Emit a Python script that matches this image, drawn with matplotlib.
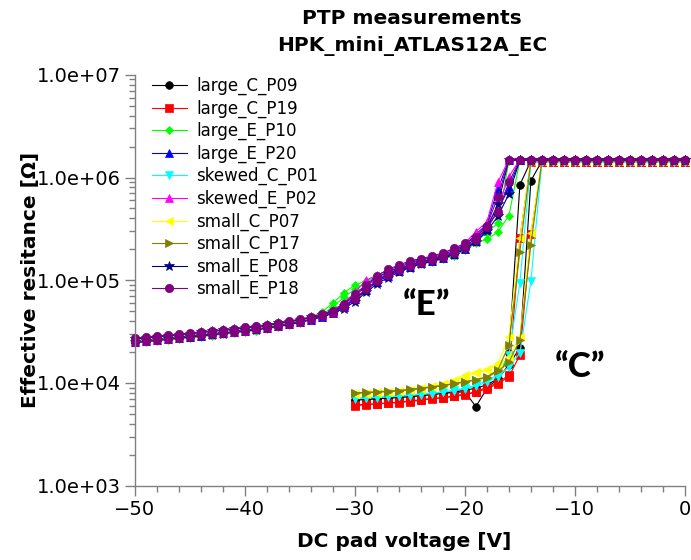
import matplotlib
matplotlib.use("Agg")
import matplotlib.pyplot as plt
from matplotlib.ticker import FuncFormatter, MultipleLocator, LogLocator, NullFormatter

# ---------------- data ----------------
voltage_E = [-50, -49, -48, -47, -46, -45, -44, -43, -42, -41,
             -40, -39, -38, -37, -36, -35, -34, -33, -32, -31,
             -30, -29, -28, -27, -26, -25, -24, -23, -22, -21,
             -20, -19, -18, -17, -16, -15, -14, -13, -12, -11,
             -10, -9, -8, -7, -6, -5, -4, -3, -2, -1, 0]
voltage_C = [-30, -29, -28, -27, -26, -25, -24, -23, -22, -21,
             -20, -19, -18, -17, -16, -15, -14, -13, -12, -11,
             -10, -9, -8, -7, -6, -5, -4, -3, -2, -1, 0]

# C samples (two sweeps each)
large_C_P09_a = [6.90e3, 7.00e3, 7.10e3, 7.20e3, 7.30e3, 7.45e3, 7.60e3, 7.80e3, 8.00e3, 8.20e3,
                 8.50e3, 8.90e3, 9.60e3, 1.10e4, 1.95e4, 8.50e5, 1.45e6, 1.45e6, 1.45e6, 1.45e6,
                 1.45e6, 1.45e6, 1.45e6, 1.45e6, 1.45e6, 1.45e6, 1.45e6, 1.45e6, 1.45e6, 1.45e6, 1.45e6]
large_C_P09_b = [6.80e3, 6.90e3, 7.00e3, 7.10e3, 7.20e3, 7.35e3, 7.50e3, 7.70e3, 7.90e3, 8.10e3,
                 8.20e3, 5.90e3, 8.80e3, 1.10e4, 1.50e4, 2.20e4, 9.30e5, 1.45e6, 1.45e6, 1.45e6,
                 1.45e6, 1.45e6, 1.45e6, 1.45e6, 1.45e6, 1.45e6, 1.45e6, 1.45e6, 1.45e6, 1.45e6, 1.45e6]
large_C_P19_a = [6.10e3, 6.20e3, 6.30e3, 6.40e3, 6.50e3, 6.70e3, 6.85e3, 7.10e3, 7.20e3, 7.50e3,
                 7.80e3, 8.20e3, 9.10e3, 1.00e4, 1.20e4, 2.56e5, 1.42e6, 1.42e6, 1.42e6, 1.42e6,
                 1.42e6, 1.42e6, 1.42e6, 1.42e6, 1.42e6, 1.42e6, 1.42e6, 1.42e6, 1.42e6, 1.42e6, 1.42e6]
large_C_P19_b = [6.00e3, 6.15e3, 6.25e3, 6.35e3, 6.45e3, 6.60e3, 6.80e3, 7.00e3, 7.15e3, 7.40e3,
                 7.70e3, 8.10e3, 8.80e3, 9.80e3, 1.15e4, 1.87e4, 2.80e5, 1.42e6, 1.42e6, 1.42e6,
                 1.42e6, 1.42e6, 1.42e6, 1.42e6, 1.42e6, 1.42e6, 1.42e6, 1.42e6, 1.42e6, 1.42e6, 1.42e6]
skewed_C_P01_a = [7.10e3, 7.20e3, 7.30e3, 7.40e3, 7.50e3, 7.65e3, 7.80e3, 8.00e3, 8.20e3, 8.50e3,
                  8.90e3, 9.50e3, 1.05e4, 1.20e4, 1.87e4, 9.50e4, 1.40e6, 1.40e6, 1.40e6, 1.40e6,
                  1.40e6, 1.40e6, 1.40e6, 1.40e6, 1.40e6, 1.40e6, 1.40e6, 1.40e6, 1.40e6, 1.40e6, 1.40e6]
skewed_C_P01_b = [7.00e3, 7.10e3, 7.20e3, 7.30e3, 7.40e3, 7.55e3, 7.70e3, 7.90e3, 8.10e3, 8.40e3,
                  8.80e3, 9.30e3, 1.02e4, 1.15e4, 1.44e4, 1.95e4, 9.80e4, 1.40e6, 1.40e6, 1.40e6,
                  1.40e6, 1.40e6, 1.40e6, 1.40e6, 1.40e6, 1.40e6, 1.40e6, 1.40e6, 1.40e6, 1.40e6, 1.40e6]
small_C_P07_a = [7.90e3, 8.00e3, 8.10e3, 8.25e3, 8.40e3, 8.60e3, 8.90e3, 9.30e3, 9.80e3, 1.08e4,
                 1.20e4, 1.29e4, 1.36e4, 1.55e4, 2.80e4, 2.60e5, 1.45e6, 1.45e6, 1.45e6, 1.45e6,
                 1.45e6, 1.45e6, 1.45e6, 1.45e6, 1.45e6, 1.45e6, 1.45e6, 1.45e6, 1.45e6, 1.45e6, 1.45e6]
small_C_P07_b = [7.80e3, 7.90e3, 8.00e3, 8.15e3, 8.30e3, 8.50e3, 8.80e3, 9.20e3, 9.70e3, 1.05e4,
                 1.15e4, 1.25e4, 1.33e4, 1.50e4, 1.80e4, 2.80e4, 2.90e5, 1.45e6, 1.45e6, 1.45e6,
                 1.45e6, 1.45e6, 1.45e6, 1.45e6, 1.45e6, 1.45e6, 1.45e6, 1.45e6, 1.45e6, 1.45e6, 1.45e6]
small_C_P17_a = [8.05e3, 8.10e3, 8.25e3, 8.35e3, 8.45e3, 8.70e3, 8.90e3, 9.20e3, 9.50e3, 9.90e3,
                 1.03e4, 1.08e4, 1.15e4, 1.34e4, 2.34e4, 1.90e5, 1.45e6, 1.45e6, 1.45e6, 1.45e6,
                 1.45e6, 1.45e6, 1.45e6, 1.45e6, 1.45e6, 1.45e6, 1.45e6, 1.45e6, 1.45e6, 1.45e6, 1.45e6]
small_C_P17_b = [7.95e3, 8.00e3, 8.15e3, 8.25e3, 8.35e3, 8.60e3, 8.80e3, 9.10e3, 9.40e3, 9.80e3,
                 1.02e4, 1.07e4, 1.13e4, 1.30e4, 1.60e4, 2.62e4, 2.20e5, 1.45e6, 1.45e6, 1.45e6,
                 1.45e6, 1.45e6, 1.45e6, 1.45e6, 1.45e6, 1.45e6, 1.45e6, 1.45e6, 1.45e6, 1.45e6, 1.45e6]

# E samples (two sweeps each)
large_E_P10_a = [2.60e4, 2.65e4, 2.71e4, 2.77e4, 2.84e4, 2.91e4, 2.98e4, 3.06e4, 3.14e4, 3.22e4,
                 3.31e4, 3.41e4, 3.53e4, 3.67e4, 3.84e4, 4.05e4, 4.40e4, 4.90e4, 6.00e4, 7.50e4,
                 9.00e4, 9.80e4, 1.08e5, 1.20e5, 1.30e5, 1.40e5, 1.48e5, 1.56e5, 1.65e5, 1.80e5,
                 2.05e5, 2.40e5, 2.90e5, 3.60e5, 1.45e6, 1.47e6, 1.47e6, 1.47e6, 1.47e6, 1.47e6,
                 1.47e6, 1.47e6, 1.47e6, 1.47e6, 1.47e6, 1.47e6, 1.47e6, 1.47e6, 1.47e6, 1.47e6, 1.47e6]
large_E_P10_b = [2.45e4, 2.50e4, 2.55e4, 2.61e4, 2.67e4, 2.74e4, 2.81e4, 2.89e4, 2.97e4, 3.05e4,
                 3.14e4, 3.24e4, 3.36e4, 3.50e4, 3.66e4, 3.86e4, 4.15e4, 4.60e4, 5.50e4, 6.80e4,
                 8.20e4, 9.30e4, 1.03e5, 1.14e5, 1.25e5, 1.35e5, 1.43e5, 1.51e5, 1.60e5, 1.72e5,
                 1.95e5, 2.30e5, 2.50e5, 2.95e5, 4.25e5, 1.47e6, 1.47e6, 1.47e6, 1.47e6, 1.47e6,
                 1.47e6, 1.47e6, 1.47e6, 1.47e6, 1.47e6, 1.47e6, 1.47e6, 1.47e6, 1.47e6, 1.47e6, 1.47e6]
large_E_P20_a = [2.69e4, 2.75e4, 2.81e4, 2.88e4, 2.95e4, 3.02e4, 3.10e4, 3.18e4, 3.26e4, 3.34e4,
                 3.43e4, 3.53e4, 3.65e4, 3.79e4, 3.95e4, 4.13e4, 4.33e4, 4.60e4, 5.00e4, 5.80e4,
                 7.10e4, 8.80e4, 1.06e5, 1.20e5, 1.33e5, 1.47e5, 1.57e5, 1.66e5, 1.77e5, 1.96e5,
                 2.22e5, 2.80e5, 3.50e5, 7.70e5, 1.48e6, 1.48e6, 1.48e6, 1.48e6, 1.48e6, 1.48e6,
                 1.48e6, 1.48e6, 1.48e6, 1.48e6, 1.48e6, 1.48e6, 1.48e6, 1.48e6, 1.48e6, 1.48e6, 1.48e6]
large_E_P20_b = [2.49e4, 2.55e4, 2.61e4, 2.68e4, 2.75e4, 2.82e4, 2.89e4, 2.97e4, 3.05e4, 3.13e4,
                 3.22e4, 3.32e4, 3.44e4, 3.58e4, 3.74e4, 3.92e4, 4.14e4, 4.42e4, 4.80e4, 5.45e4,
                 6.50e4, 8.00e4, 9.60e4, 1.10e5, 1.23e5, 1.36e5, 1.46e5, 1.55e5, 1.65e5, 1.80e5,
                 2.02e5, 2.40e5, 3.15e5, 4.80e5, 8.00e5, 1.48e6, 1.48e6, 1.48e6, 1.48e6, 1.48e6,
                 1.48e6, 1.48e6, 1.48e6, 1.48e6, 1.48e6, 1.48e6, 1.48e6, 1.48e6, 1.48e6, 1.48e6, 1.48e6]
skewed_E_P02_a = [2.68e4, 2.74e4, 2.80e4, 2.87e4, 2.94e4, 3.01e4, 3.09e4, 3.17e4, 3.25e4, 3.33e4,
                  3.42e4, 3.52e4, 3.64e4, 3.78e4, 3.94e4, 4.12e4, 4.35e4, 4.65e4, 5.10e4, 6.00e4,
                  7.60e4, 1.00e5, 1.12e5, 1.24e5, 1.36e5, 1.50e5, 1.60e5, 1.70e5, 1.82e5, 2.02e5,
                  2.30e5, 2.97e5, 3.70e5, 9.00e5, 1.50e6, 1.50e6, 1.50e6, 1.50e6, 1.50e6, 1.50e6,
                  1.50e6, 1.50e6, 1.50e6, 1.50e6, 1.50e6, 1.50e6, 1.50e6, 1.50e6, 1.50e6, 1.50e6, 1.50e6]
skewed_E_P02_b = [2.52e4, 2.58e4, 2.64e4, 2.70e4, 2.77e4, 2.84e4, 2.91e4, 2.99e4, 3.07e4, 3.15e4,
                  3.24e4, 3.34e4, 3.46e4, 3.60e4, 3.76e4, 3.94e4, 4.16e4, 4.44e4, 4.85e4, 5.60e4,
                  6.90e4, 8.80e4, 1.03e5, 1.16e5, 1.29e5, 1.42e5, 1.52e5, 1.62e5, 1.74e5, 1.92e5,
                  2.18e5, 2.70e5, 3.40e5, 5.20e5, 1.02e6, 1.50e6, 1.50e6, 1.50e6, 1.50e6, 1.50e6,
                  1.50e6, 1.50e6, 1.50e6, 1.50e6, 1.50e6, 1.50e6, 1.50e6, 1.50e6, 1.50e6, 1.50e6, 1.50e6]
small_E_P08_a = [2.70e4, 2.76e4, 2.82e4, 2.89e4, 2.96e4, 3.03e4, 3.11e4, 3.19e4, 3.27e4, 3.35e4,
                 3.44e4, 3.54e4, 3.66e4, 3.80e4, 3.96e4, 4.14e4, 4.34e4, 4.60e4, 4.95e4, 5.60e4,
                 6.50e4, 8.00e4, 1.00e5, 1.14e5, 1.28e5, 1.41e5, 1.51e5, 1.60e5, 1.69e5, 1.90e5,
                 2.12e5, 2.55e5, 3.20e5, 5.50e5, 1.48e6, 1.48e6, 1.48e6, 1.48e6, 1.48e6, 1.48e6,
                 1.48e6, 1.48e6, 1.48e6, 1.48e6, 1.48e6, 1.48e6, 1.48e6, 1.48e6, 1.48e6, 1.48e6, 1.48e6]
small_E_P08_b = [2.48e4, 2.54e4, 2.60e4, 2.66e4, 2.73e4, 2.80e4, 2.87e4, 2.95e4, 3.03e4, 3.11e4,
                 3.20e4, 3.30e4, 3.42e4, 3.56e4, 3.72e4, 3.90e4, 4.12e4, 4.40e4, 4.75e4, 5.30e4,
                 6.20e4, 7.60e4, 9.20e4, 1.06e5, 1.20e5, 1.33e5, 1.44e5, 1.53e5, 1.63e5, 1.78e5,
                 2.00e5, 2.35e5, 3.00e5, 4.20e5, 6.90e5, 1.48e6, 1.48e6, 1.48e6, 1.48e6, 1.48e6,
                 1.48e6, 1.48e6, 1.48e6, 1.48e6, 1.48e6, 1.48e6, 1.48e6, 1.48e6, 1.48e6, 1.48e6, 1.48e6]
small_E_P18_a = [2.72e4, 2.78e4, 2.85e4, 2.92e4, 2.99e4, 3.06e4, 3.14e4, 3.22e4, 3.30e4, 3.38e4,
                 3.47e4, 3.58e4, 3.70e4, 3.84e4, 4.00e4, 4.18e4, 4.38e4, 4.65e4, 5.05e4, 5.90e4,
                 7.30e4, 9.00e4, 1.10e5, 1.28e5, 1.40e5, 1.55e5, 1.62e5, 1.72e5, 1.84e5, 2.04e5,
                 2.28e5, 2.62e5, 3.40e5, 6.50e5, 1.49e6, 1.49e6, 1.49e6, 1.49e6, 1.49e6, 1.49e6,
                 1.49e6, 1.49e6, 1.49e6, 1.49e6, 1.49e6, 1.49e6, 1.49e6, 1.49e6, 1.49e6, 1.49e6, 1.49e6]
small_E_P18_b = [2.50e4, 2.56e4, 2.62e4, 2.69e4, 2.76e4, 2.83e4, 2.90e4, 2.98e4, 3.06e4, 3.14e4,
                 3.23e4, 3.33e4, 3.45e4, 3.60e4, 3.76e4, 3.95e4, 4.18e4, 4.45e4, 4.85e4, 5.50e4,
                 6.60e4, 8.20e4, 9.80e4, 1.12e5, 1.25e5, 1.38e5, 1.48e5, 1.57e5, 1.68e5, 1.84e5,
                 2.08e5, 2.45e5, 3.30e5, 4.60e5, 9.00e5, 1.49e6, 1.49e6, 1.49e6, 1.49e6, 1.49e6,
                 1.49e6, 1.49e6, 1.49e6, 1.49e6, 1.49e6, 1.49e6, 1.49e6, 1.49e6, 1.49e6, 1.49e6, 1.49e6]

labels = ["large_C_P09", "large_C_P19", "large_E_P10", "large_E_P20", "skewed_C_P01",
          "skewed_E_P02", "small_C_P07", "small_C_P17", "small_E_P08", "small_E_P18"]
xs = [voltage_C, voltage_C, voltage_E, voltage_E, voltage_C,
      voltage_E, voltage_C, voltage_C, voltage_E, voltage_E]
sweeps_a = [large_C_P09_a, large_C_P19_a, large_E_P10_a, large_E_P20_a, skewed_C_P01_a,
            skewed_E_P02_a, small_C_P07_a, small_C_P17_a, small_E_P08_a, small_E_P18_a]
sweeps_b = [large_C_P09_b, large_C_P19_b, large_E_P10_b, large_E_P20_b, skewed_C_P01_b,
            skewed_E_P02_b, small_C_P07_b, small_C_P17_b, small_E_P08_b, small_E_P18_b]

colors = ["#000000", "#ff0000", "#00ff00", "#0000ff", "#00ffff",
          "#ff00ff", "#ffff00", "#808000", "#000080", "#800080"]
markers = ["o", "s", "D", "^", "v", "^", "<", ">", "*", "o"]
msizes = [5.5, 5.5, 3.6, 5.5, 5.5, 5.5, 5.5, 5.5, 7, 6]

# ---------------- figure ----------------
fig = plt.figure(figsize=(6.91, 5.6), dpi=100)
ax = fig.add_axes([0.1949, 0.1326, 0.7964, 0.7339])

for lab, x, ya, yb, c, m, s in zip(labels, xs, sweeps_a, sweeps_b, colors, markers, msizes):
    ax.plot(x, ya, color=c, marker=m, markersize=s, linewidth=0.8,
            markeredgewidth=0.5, label=lab, clip_on=False)
    ax.plot(x, yb, color=c, marker=m, markersize=s, linewidth=0.8,
            markeredgewidth=0.5, label="_nolegend_", clip_on=False)

ax.set_yscale("log")
ax.set_xlim(-50, 0)
ax.set_ylim(1e3, 1e7)

for side in ("top", "right"):
    ax.spines[side].set_visible(False)
for side in ("left", "bottom"):
    ax.spines[side].set_color("#808080")
    ax.spines[side].set_linewidth(1.0)

ax.xaxis.set_major_locator(MultipleLocator(10))
ax.xaxis.set_minor_locator(MultipleLocator(2))
ax.yaxis.set_major_locator(LogLocator(base=10, numticks=10))
ax.yaxis.set_minor_locator(LogLocator(base=10, subs=range(2, 10), numticks=60))
ax.yaxis.set_minor_formatter(NullFormatter())
ax.yaxis.set_major_formatter(FuncFormatter(lambda v, p: f"{v:.1e}"))

ax.tick_params(which="major", direction="out", length=7, width=1, color="#808080",
               labelsize=14, pad=3)
ax.tick_params(which="minor", direction="out", length=4, width=1, color="#808080")

ax.set_xlabel("DC pad voltage [V]", fontsize=14.5, fontweight="bold")
ax.xaxis.set_label_coords(0.49, -0.112)
ax.set_ylabel("Effective resitance [Ω]", fontsize=14.5, fontweight="bold")
ax.yaxis.set_label_coords(-0.172, 0.5)

fig.text(0.5965, 1 - 18 / 560, "PTP measurements", fontsize=14.5, fontweight="bold",
         ha="center", va="center")
fig.text(0.5965, 1 - 46 / 560, "HPK_mini_ATLAS12A_EC", fontsize=14.5, fontweight="bold",
         ha="center", va="center")

ax.legend(loc="upper left", bbox_to_anchor=(0.031, 0.995), frameon=False, fontsize=12,
          handlelength=2.1, handletextpad=0.55, labelspacing=0.26, borderpad=0,
          borderaxespad=0)

ax.text(-23.5, 4.59e4, "\u201cE\u201d", family=["Lato", "DejaVu Sans"], fontweight=900,
        fontsize=25, ha="center", va="baseline")
ax.text(-9.5, 1.14e4, "\u201cC\u201d", family=["Lato", "DejaVu Sans"], fontweight=900,
        fontsize=25, ha="center", va="baseline")

fig.savefig("out.png", dpi=100)
